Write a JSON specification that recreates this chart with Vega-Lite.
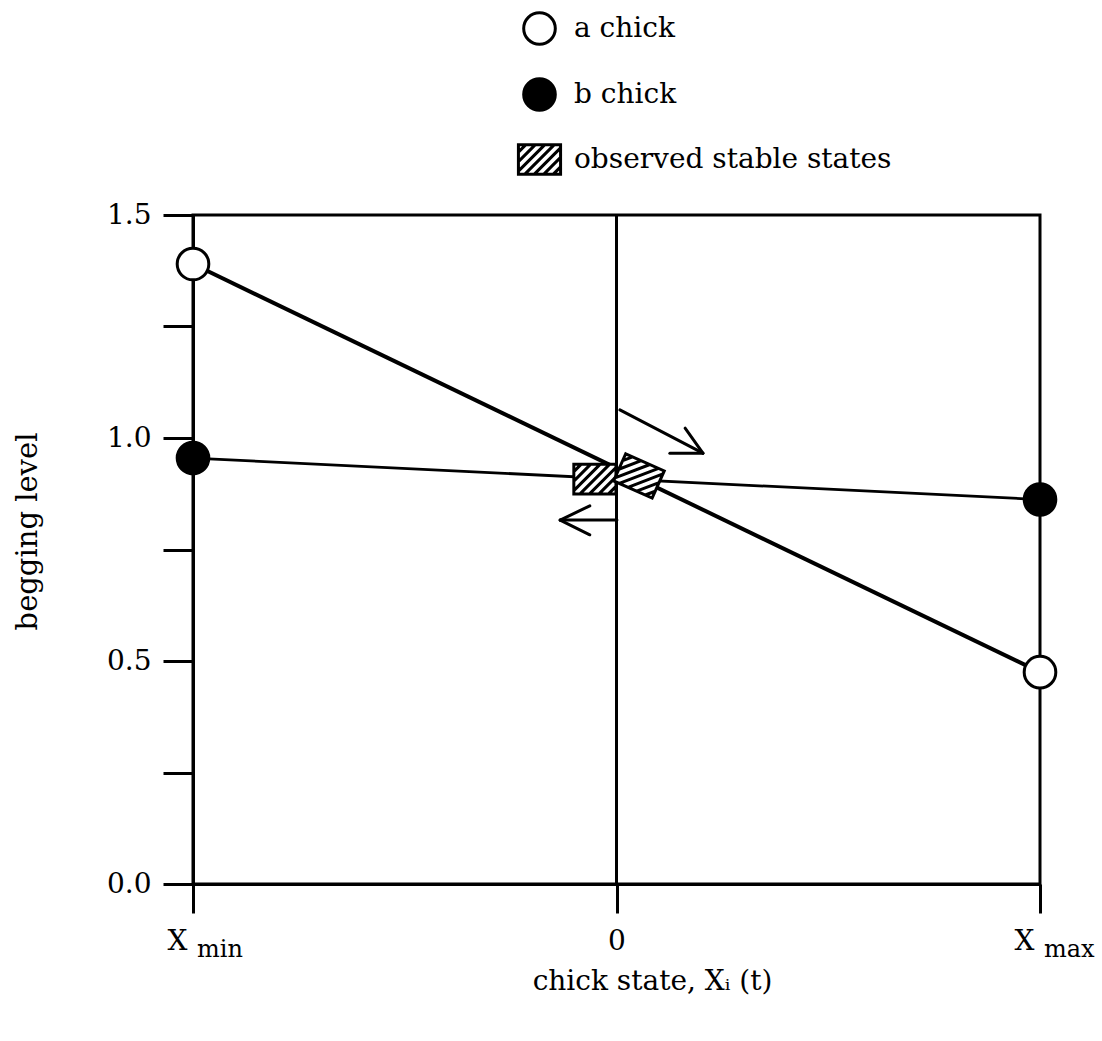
{
  "$schema": "https://vega.github.io/schema/vega-lite/v6.json",
  "width": 847,
  "height": 669,
  "autosize": {"type": "none"},
  "padding": {"left": 193, "top": 215, "right": 62, "bottom": 157},
  "background": "white",
  "config": {
    "view": {"stroke": "black", "strokeWidth": 3},
    "font": "DejaVu Serif",
    "axis": {
      "domainColor": "black",
      "domainWidth": 3,
      "tickColor": "black",
      "tickWidth": 3,
      "labelColor": "black",
      "labelFont": "DejaVu Serif",
      "labelFontSize": 28,
      "titleColor": "black",
      "titleFont": "DejaVu Serif",
      "titleFontSize": 28,
      "titleFontWeight": "normal",
      "grid": false,
      "labelFlush": false,
      "labelBound": false,
      "labelOverlap": false
    },
    "legend": {
      "labelLimit": 0,
      "symbolStrokeColor": "black",
      "symbolStrokeWidth": 3
    }
  },
  "datasets": {
    "chicks": [
      {"series": "a chick", "state": -1, "beg": 1.39},
      {"series": "a chick", "state": 1, "beg": 0.475},
      {"series": "b chick", "state": -1, "beg": 0.955},
      {"series": "b chick", "state": 1, "beg": 0.862},
      {"series": "observed stable states", "state": -0.051, "beg": 0.908},
      {"series": "observed stable states", "state": 0.053, "beg": 0.915}
    ],
    "arrows": [
      {"state": 0.008, "beg": 1.063, "state2": 0.204, "beg2": 0.966},
      {"state": 0.204, "beg": 0.966, "state2": 0.162, "beg2": 1.022},
      {"state": 0.204, "beg": 0.966, "state2": 0.126, "beg2": 0.966},
      {"state": 0.001, "beg": 0.816, "state2": -0.133, "beg2": 0.816},
      {"state": -0.133, "beg": 0.816, "state2": -0.063, "beg2": 0.848},
      {"state": -0.133, "beg": 0.816, "state2": -0.063, "beg2": 0.783}
    ],
    "zero": [{"state": 0}],
    "subs": [
      {"state": -1, "beg": 0, "sub": "min"},
      {"state": 1, "beg": 0, "sub": "max"}
    ]
  },
  "layer": [
    {
      "data": {"name": "chicks"},
      "transform": [{"filter": "datum.series === 'a chick'"}],
      "mark": {"type": "line", "stroke": "black", "strokeWidth": 4},
      "encoding": {
        "x": {
          "field": "state",
          "type": "quantitative",
          "scale": {"domain": [-1, 1], "nice": false, "zero": false},
          "axis": {
            "values": [-1, 0, 1],
            "labelExpr": "datum.value === 0 ? '0' : 'X'",
            "labelOffset": {"condition": {"test": "datum.value !== 0", "value": -16}, "value": 0},
            "tickSize": 29,
            "labelPadding": 14,
            "title": "chick state, Xᵢ (t)",
            "titleX": 459,
            "titlePadding": 12
          }
        },
        "y": {
          "field": "beg",
          "type": "quantitative",
          "scale": {"domain": [0, 1.5], "nice": false, "zero": true},
          "axis": {
            "values": [0, 0.25, 0.5, 0.75, 1, 1.25, 1.5],
            "labelExpr": "datum.value % 0.5 === 0 ? format(datum.value, '.1f') : ''",
            "tickSize": 30,
            "labelPadding": 12,
            "title": "begging level",
            "titleFontSize": 29,
            "titleY": 316,
            "titlePadding": 64
          }
        }
      }
    },
    {
      "data": {"name": "zero"},
      "mark": {"type": "rule", "stroke": "black", "strokeWidth": 3},
      "encoding": {
        "x": {"field": "state", "type": "quantitative"}
      }
    },
    {
      "data": {"name": "chicks"},
      "transform": [{"filter": "datum.series === 'b chick'"}],
      "mark": {"type": "line", "stroke": "black", "strokeWidth": 2.8},
      "encoding": {
        "x": {"field": "state", "type": "quantitative"},
        "y": {"field": "beg", "type": "quantitative"}
      }
    },
    {
      "data": {"name": "arrows"},
      "mark": {"type": "rule", "stroke": "black", "strokeWidth": 3, "strokeCap": "round"},
      "encoding": {
        "x": {"field": "state", "type": "quantitative"},
        "y": {"field": "beg", "type": "quantitative"},
        "x2": {"field": "state2"},
        "y2": {"field": "beg2"}
      }
    },
    {
      "data": {"name": "subs"},
      "mark": {"type": "text", "font": "DejaVu Serif", "fontSize": 24, "color": "black", "align": "left", "baseline": "alphabetic", "dx": 4, "dy": 73},
      "encoding": {
        "x": {"field": "state", "type": "quantitative"},
        "y": {"field": "beg", "type": "quantitative"},
        "text": {"field": "sub"}
      }
    },
    {
      "data": {"name": "chicks"},
      "mark": {"type": "point", "filled": true, "strokeWidth": 3, "opacity": 1, "size": 1000},
      "encoding": {
        "x": {"field": "state", "type": "quantitative"},
        "y": {"field": "beg", "type": "quantitative"},
        "shape": {
          "field": "series",
          "type": "nominal",
          "scale": {
            "domain": ["a chick", "b chick", "observed stable states"],
            "range": ["circle", "circle", "M-1.333,-0.94L1.333,-0.94L1.333,0.94L-1.333,0.94Z M-1.333,-0.467L-0.86,-0.94 M-1.333,0.133L-0.26,-0.94 M-1.333,0.733L0.34,-0.94 M-0.94,0.94L0.94,-0.94 M-0.34,0.94L1.333,-0.733 M0.26,0.94L1.333,-0.133 M0.86,0.94L1.333,0.467"]
          },
          "legend": {
            "title": null,
            "orient": "none",
            "legendX": 329,
            "legendY": -204,
            "padding": 0,
            "labelFont": "DejaVu Serif",
            "labelFontSize": 28,
            "labelColor": "black",
            "labelOffset": 17,
            "labelLimit": 0,
            "symbolSize": 1000,
            "symbolStrokeWidth": 3,
            "symbolStrokeColor": "black",
            "rowPadding": 21
          }
        },
        "fill": {
          "field": "series",
          "type": "nominal",
          "scale": {
            "domain": ["a chick", "b chick", "observed stable states"],
            "range": ["white", "black", "white"]
          },
          "legend": {
            "title": null,
            "orient": "none",
            "legendX": 329,
            "legendY": -204,
            "padding": 0,
            "labelFont": "DejaVu Serif",
            "labelFontSize": 28,
            "labelColor": "black",
            "labelOffset": 17,
            "labelLimit": 0,
            "symbolSize": 1000,
            "symbolStrokeWidth": 3,
            "symbolStrokeColor": "black",
            "rowPadding": 21
          }
        },
        "stroke": {
          "field": "series",
          "type": "nominal",
          "scale": {
            "domain": ["a chick", "b chick", "observed stable states"],
            "range": ["black", "black", "black"]
          },
          "legend": {
            "title": null,
            "orient": "none",
            "legendX": 329,
            "legendY": -204,
            "padding": 0,
            "labelFont": "DejaVu Serif",
            "labelFontSize": 28,
            "labelColor": "black",
            "labelOffset": 17,
            "labelLimit": 0,
            "symbolSize": 1000,
            "symbolStrokeWidth": 3,
            "symbolStrokeColor": "black",
            "rowPadding": 21
          }
        },
        "angle": {
          "condition": {"test": "datum.series === 'observed stable states' && datum.state > 0", "value": 24},
          "value": 0
        }
      }
    }
  ]
}
